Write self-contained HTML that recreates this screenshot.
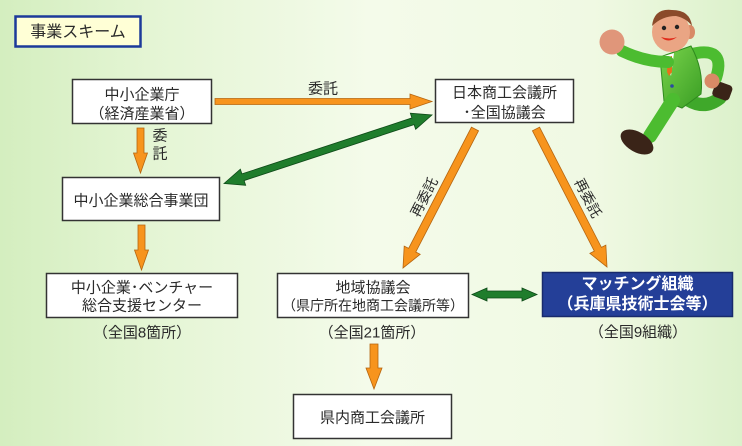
<!DOCTYPE html>
<html><head><meta charset="utf-8">
<style>
html,body{margin:0;padding:0;}
body{width:742px;height:446px;overflow:hidden;}
svg{display:block;}
text{font-family:"Liberation Sans","Noto Sans CJK JP",sans-serif;fill:#2a2a2a;}
</style></head>
<body>
<svg width="742" height="446" viewBox="0 0 742 446" xmlns="http://www.w3.org/2000/svg">
<defs>
<linearGradient id="bg" x1="0" y1="0" x2="1" y2="0">
<stop offset="0" stop-color="#d4eebf"/>
<stop offset="0.2" stop-color="#e4f5d4"/>
<stop offset="0.5" stop-color="#f4fbea"/>
<stop offset="0.8" stop-color="#f0f9e3"/>
<stop offset="1" stop-color="#dcf1cb"/>
</linearGradient>
<linearGradient id="suit" x1="0" y1="0" x2="1" y2="1">
<stop offset="0" stop-color="#7ad44c"/>
<stop offset="1" stop-color="#3a9e24"/>
</linearGradient>
</defs>
<rect x="0" y="0" width="742" height="446" fill="url(#bg)"/>

<!-- title -->
<rect x="15.5" y="16.5" width="125" height="30" fill="#ffffd6" stroke="#1c3a9a" stroke-width="2.5"/>
<text x="78" y="37" font-size="16" text-anchor="middle">事業スキーム</text>

<!-- boxes -->
<g fill="#fff" stroke="#333" stroke-width="1.5">
<rect x="72.5" y="79.5" width="139" height="44"/>
<rect x="435.5" y="79.5" width="138" height="43"/>
<rect x="62.5" y="177.5" width="157" height="43"/>
<rect x="46.5" y="273.5" width="191" height="44"/>
<rect x="277.5" y="273.5" width="191" height="44"/>
<rect x="293.5" y="394.5" width="158" height="44"/>
</g>
<rect x="542.5" y="272.5" width="190" height="44" fill="#243f98" stroke="#182a6c" stroke-width="1.5"/>

<!-- box texts -->
<g font-size="15" text-anchor="middle">
<text x="142" y="99.7">中小企業庁</text>
<text x="142" y="118.7">（経済産業省）</text>
<text x="504.5" y="97.7">日本商工会議所</text>
<text x="504.5" y="117.7">･全国協議会</text>
<text x="141" y="205.7">中小企業総合事業団</text>
<text x="142" y="292.7">中小企業･ベンチャー</text>
<text x="142" y="310.7">総合支援センター</text>
<text x="373" y="292.7">地域協議会</text>
<text x="373" y="310.3" font-size="14">（県庁所在地商工会議所等）</text>
<text x="372.5" y="422.7">県内商工会議所</text>
<text x="142" y="337.7">（全国8箇所）</text>
<text x="372" y="337.7">（全国21箇所）</text>
<text x="638" y="337">（全国9組織）</text>
<text x="323" y="93.7">委託</text>
<text x="160" y="140.7">委</text>
<text x="160" y="158.7">託</text>
</g>
<g font-size="16" text-anchor="middle" font-weight="bold">
<text x="637.5" y="289" style="fill:#fff">マッチング組織</text>
<text x="637.5" y="309" style="fill:#fff">（兵庫県技術士会等）</text>
</g>

<!-- rotated labels -->
<text x="424" y="202" font-size="14" text-anchor="middle" transform="rotate(-62.6 424 197)">再委託</text>
<text x="588" y="203" font-size="14" text-anchor="middle" transform="rotate(62.8 588 198)">再委託</text>

<!-- orange arrows -->
<g fill="#f7941d" stroke="#b5650f" stroke-width="0.8" stroke-linejoin="miter">
<polygon points="215,98.5 410,98.5 410,94 432,101.5 410,109 410,104.5 215,104.5"/>
<polygon points="137,128 144,128 144,153 147.5,153 140.5,173 133.5,153 137,153"/>
<polygon points="138,225 145,225 145,250 148.5,250 141.5,270 134.5,250 138,250"/>
<polygon points="370,344 378,344 378,368 382,368 374,389 366,368 370,368"/>
<polygon points="478.55,130.84 415.75,252.04 420.2,254.3 403,268 404.2,246.1 408.65,248.36 471.45,127.16"/>
<polygon points="539.56,127.17 601.41,247.39 605.85,245.1 607,267 589.85,253.34 594.29,251.05 532.44,130.83"/>
</g>

<!-- green arrows -->
<g fill="#1f7d2c" stroke="#0e4a18" stroke-width="0.8">
<polygon points="224,183.5 245.66,185.31 244.09,180.56 414.09,124.58 415.66,129.33 432,115 410.34,113.19 411.91,117.94 241.91,173.92 240.34,169.17"/>
<polygon points="472,294.5 487,288 487,291 522,291 522,288 537,294.5 522,301 522,298 487,298 487,301"/>
</g>

<!-- running man -->
<g>
<!-- back leg -->
<path d="M688,100 Q705,110 720,98" stroke="#3fa82a" stroke-width="13" fill="none" stroke-linecap="round"/>
<!-- briefcase -->
<rect x="713" y="83" width="18" height="16" rx="4" fill="#3a2418" transform="rotate(20 722 92)"/>
<!-- back arm -->
<path d="M688,55 Q727,44 716,78" stroke="#4cbc30" stroke-width="12" fill="none" stroke-linecap="round"/>
<circle cx="712" cy="81" r="7.5" fill="#d88a66"/>
<!-- torso -->
<path d="M660,57 L691,46 Q704,70 701,94 L682,108 L664,101 Z" fill="url(#suit)" stroke="#2f8a1e" stroke-width="1"/>
<!-- shirt and tie -->
<polygon points="664,56 674,53 671,76" fill="#fff"/>
<polygon points="668,57 672,56 672,72 669,76 667,72" fill="#e8701a"/>
<circle cx="672" cy="86" r="1.8" fill="#2a4aa0"/>
<circle cx="673" cy="96" r="1.8" fill="#2a4aa0"/>
<!-- front leg -->
<path d="M673,100 L650,136" stroke="#4cbc30" stroke-width="14" fill="none" stroke-linecap="round"/>
<ellipse cx="637" cy="142" rx="18" ry="10" fill="#3a2418" transform="rotate(30 637 142)"/>
<!-- front arm -->
<path d="M668,62 Q645,62 622,51" stroke="#4cbc30" stroke-width="12" fill="none" stroke-linecap="round"/>
<circle cx="612" cy="42" r="12.5" fill="#e0967a"/>
<!-- head -->
<ellipse cx="690" cy="32" rx="5" ry="7" fill="#d88a66"/>
<ellipse cx="671" cy="32" rx="19" ry="20" fill="#eaa584"/>
<path d="M652,26 Q654,8 672,10 Q690,10 692,26 Q686,18 676,16 Q662,16 652,26 Z" fill="#8a4a2a"/>
<circle cx="664" cy="28" r="2.2" fill="#222"/>
<circle cx="677" cy="27" r="2.2" fill="#222"/>
<path d="M661,37 Q668,44 677,37 Q670,40 661,37 Z" fill="#e02a1a"/>
</g>
</svg>
</body></html>
